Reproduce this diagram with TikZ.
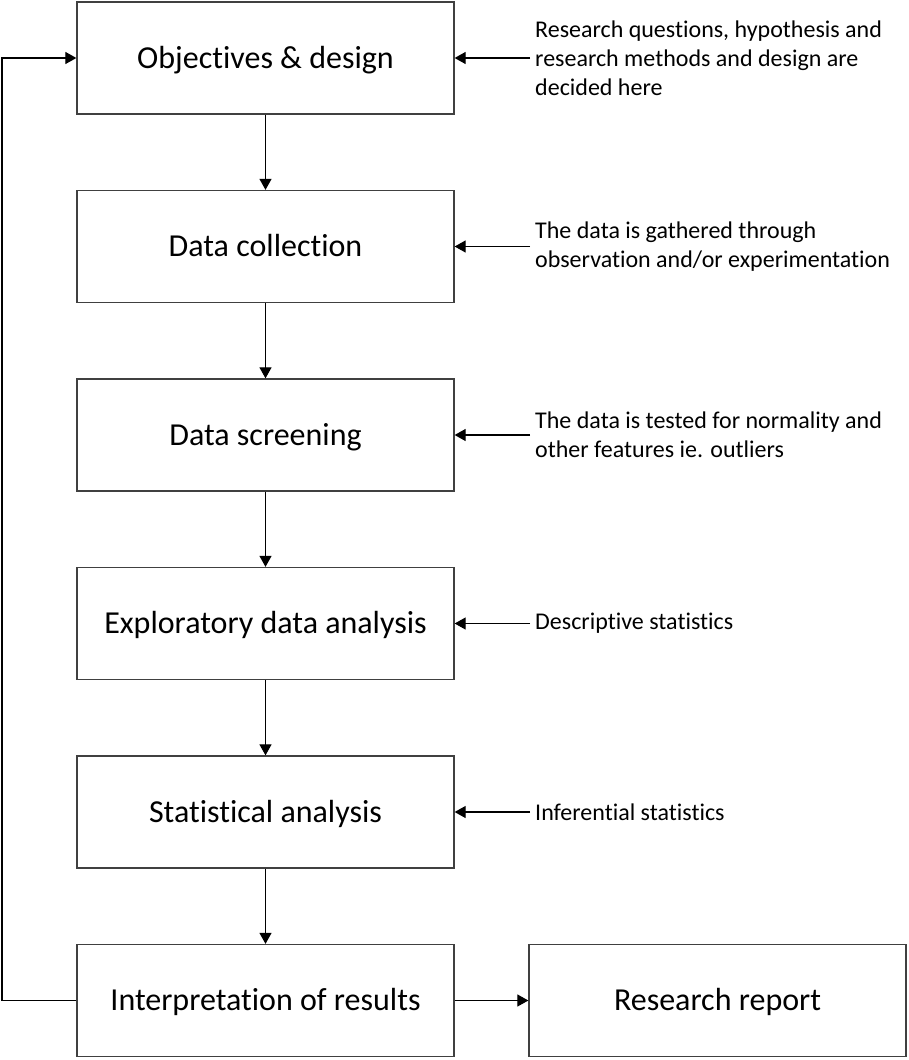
\documentclass[tikz,border=0pt]{standalone}
\usepackage{fontspec}
\setmainfont{Carlito}[RawFeature={-liga}]
\usetikzlibrary{arrows.meta}
\begin{document}
\begin{tikzpicture}[x=1pt,y=-1pt,
  box/.style={draw=black!75, line width=1.3pt, minimum width=377pt, minimum height=112pt, inner sep=0pt, text height=20.6pt, text depth=0pt, font=\fontsize{32}{38}\selectfont},
  note/.style={anchor=west, align=left, inner sep=0pt, font=\fontsize{24}{29}\selectfont},
  arr/.style={line width=1.2pt, -{Triangle[length=11pt,width=12pt]}}]
\useasboundingbox (0,0) rectangle (909,1060);
\node[box] (b1) at (265.5,58) {Objectives \& design};
\node[box] (b2) at (265.5,246.5) {Data collection};
\node[box] (b3) at (265.5,435) {Data screening};
\node[box] (b4) at (265.5,623.5) {Exploratory data analysis};
\node[box] (b5) at (265.5,812) {Statistical analysis};
\node[box] (b6) at (265.5,1000.5) {Interpretation of results};
\node[box] (b7) at (717.5,1000.5) {Research report};
\node[note] (n1) at (535,58) {Research questions, hypothesis and\\research methods and design are\\decided here};
\node[note] (n2) at (535,246.5) {The data is gathered through\\observation and/or experimentation};
\node[note] (n3) at (535,435) {The data is tested for normality and\\other features ie. outliers};
\node[note] (n4) at (535,623.5) {Descriptive statistics};
\node[note] (n5) at (535,812) {Inferential statistics};
\draw[arr] (b1) -- (b2);
\draw[arr] (b2) -- (b3);
\draw[arr] (b3) -- (b4);
\draw[arr] (b4) -- (b5);
\draw[arr] (b5) -- (b6);
\draw[arr] (b6) -- (b7);
\foreach \i in {1,...,5} {\draw[arr] ([xshift=-5pt]n\i.west) -- (b\i.east);}
\coordinate (c1) at (2,1000.5);
\coordinate (c2) at (2,58);
\draw[arr] (b6.west) -- (c1) -- (c2) -- (b1.west);
\end{tikzpicture}
\end{document}
